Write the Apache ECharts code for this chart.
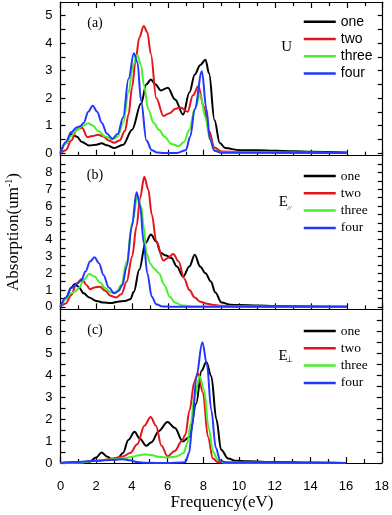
<!DOCTYPE html>
<html><head><meta charset="utf-8">
<script src="https://cdn.jsdelivr.net/npm/echarts@6/dist/echarts.min.js"></script>
<style>html,body{margin:0;padding:0;background:#fff}#c{width:392px;height:515px}</style>
</head><body><div id="c"></div>
<script>
const seriesNames = ['one', 'two', 'three', 'four'];
const colors = ['#000000', '#e3161c', '#48f02a', '#2238ff'];
const xTickLabels = [0, 2, 4, 6, 8, 10, 12, 14, 16, 18];
const yLabelsA = [0, 1, 2, 3, 4, 5];
const yTicksA = [0, 0.5, 1, 1.5, 2, 2.5, 3, 3.5, 4, 4.5, 5];
const yLabelsB = [0, 1, 2, 3, 4, 5, 6, 7, 8];
const yTicksB = [0, 0.5, 1, 1.5, 2, 2.5, 3, 3.5, 4, 4.5, 5, 5.5, 6, 6.5, 7, 7.5, 8, 8.5];
const yLabelsC = [0, 1, 2, 3, 4, 5, 6];
const yTicksC = [0, 0.5, 1, 1.5, 2, 2.5, 3, 3.5, 4, 4.5, 5, 5.5, 6, 6.5];

// Panel (a) U
const aOneX = [0,0.3,0.6,0.9,1.2,1.6,2.0,2.3,2.6,3.0,3.5,4.0,4.5,4.8,5.05,5.3,5.6,6.0,6.4,6.85,7.2,7.5,7.8,8.1,8.3,8.6,8.9,9.2,10,11,12,13,14,16];
const aOneY = [0,0.35,0.68,0.6,0.4,0.27,0.3,0.35,0.28,0.18,0.3,0.85,1.8,2.5,2.68,2.5,2.28,2.38,1.95,1.4,2.2,2.85,3.2,3.4,2.9,1.2,0.36,0.18,0.1,0.1,0.08,0.06,0.04,0.02];
const aTwoX = [0,0.3,0.6,0.9,1.2,1.5,1.8,2.1,2.4,2.7,3.0,3.3,3.6,3.8,4.0,4.2,4.4,4.65,4.85,5.05,5.35,5.75,6.1,6.4,6.7,7.1,7.4,7.7,8.0,8.3,8.6,9,10,12,14,16];
const aTwoY = [0,0.1,0.45,0.85,0.92,0.58,0.62,0.66,0.6,0.45,0.37,0.45,0.8,1.4,2.4,3.4,4.2,4.63,4.4,3.6,2.0,1.35,1.45,1.6,1.66,1.5,2.1,2.43,1.7,0.8,0.2,0.05,0.03,0.02,0.02,0];
const aThreeX = [0,0.3,0.6,0.9,1.2,1.55,1.8,2.1,2.5,2.9,3.2,3.5,3.8,4.05,4.3,4.5,4.65,4.9,5.2,5.5,5.8,6.2,6.6,6.9,7.2,7.5,7.8,8.1,8.35,8.6,9,16];
const aThreeY = [0,0.35,0.62,0.82,0.98,1.08,1.0,0.8,0.6,0.5,0.6,1.1,2.2,3.2,3.57,3.2,2.5,1.6,1.1,0.85,0.6,0.33,0.25,0.4,0.85,1.6,2.12,1.3,0.5,0.1,0.02,0];
const aFourX = [0,0.3,0.6,0.9,1.1,1.3,1.55,1.8,2.05,2.3,2.6,2.9,3.2,3.5,3.8,4.1,4.3,4.5,4.8,5.1,5.4,5.8,6.5,7.0,7.25,7.5,7.9,8.15,8.35,8.6,9,16];
const aFourY = [0,0.4,0.75,0.93,0.97,1.1,1.5,1.72,1.5,1.1,0.7,0.52,0.7,1.3,2.7,3.63,3.3,1.9,0.45,0.1,0.02,0,0,0.1,0.6,1.6,2.98,1.6,0.5,0.08,0.01,0];

// Panel (b) E//
const bOneX = [0,0.3,0.6,0.8,1.0,1.3,1.6,2.0,2.4,2.8,3.2,3.6,3.9,4.1,4.4,4.75,5.05,5.35,5.6,5.9,6.2,6.5,6.85,7.2,7.5,7.8,8.1,8.4,8.65,9.0,9.5,10,11,12,13,14,16];
const bOneY = [0,0.5,1.15,1.35,1.2,0.8,0.55,0.35,0.25,0.22,0.3,0.35,0.45,0.9,2.2,3.8,4.3,3.9,3.2,3.05,2.9,2.4,1.8,2.4,3.1,2.4,2.0,1.5,0.85,0.25,0.12,0.1,0.07,0.05,0.03,0.02,0];
const bTwoX = [0,0.3,0.6,0.9,1.2,1.45,1.65,1.9,2.2,2.5,2.8,3.1,3.4,3.7,4.0,4.25,4.45,4.68,4.9,5.1,5.35,5.75,6.0,6.3,6.6,6.9,7.2,7.5,7.8,8.2,8.6,9,10,12,14,16];
const bTwoY = [0,0.2,0.7,1.4,1.65,1.3,1.05,1.15,1.2,0.95,0.65,0.55,0.75,1.5,3.0,4.8,6.5,7.75,7.0,5.5,3.9,2.75,2.9,3.15,2.7,1.7,1.0,0.55,0.3,0.18,0.1,0.06,0.04,0.02,0.02,0];
const bThreeX = [0,0.3,0.55,0.8,1.05,1.3,1.6,1.9,2.2,2.5,2.8,3.1,3.4,3.7,4.0,4.3,4.5,4.65,4.8,5.0,5.2,5.5,5.8,6.1,6.4,6.8,7.2,8,16];
const bThreeY = [0,0.45,0.8,0.9,1.15,1.6,1.95,1.8,1.45,1.1,0.85,0.85,1.3,2.7,5.0,6.55,6.0,4.8,3.2,2.6,2.3,2.0,1.3,0.6,0.25,0.08,0.03,0.01,0];
const bFourX = [0,0.3,0.6,0.9,1.15,1.4,1.65,1.9,2.15,2.4,2.7,3.0,3.25,3.45,3.7,3.98,4.25,4.45,4.65,4.85,5.1,5.35,5.7,6.2,16];
const bFourY = [0,0.55,1.1,1.35,1.55,2.1,2.7,2.95,2.6,1.9,1.15,0.8,0.95,1.3,2.4,4.75,6.82,6.0,3.8,2.0,0.6,0.15,0.02,0,0];

// Panel (c) E-perp
const cOneX = [0,1,1.6,2.0,2.3,2.6,2.9,3.2,3.5,3.8,4.15,4.45,4.8,5.1,5.5,6.0,6.4,6.85,7.23,7.6,7.9,8.17,8.45,8.73,9.0,9.4,9.8,10.5,12,14,16];
const cOneY = [0,0.02,0.05,0.25,0.48,0.3,0.15,0.2,0.45,1.05,1.42,1.1,0.78,0.95,1.45,1.87,1.6,0.98,1.2,2.7,4.2,4.6,3.95,2.0,0.6,0.2,0.1,0.08,0.04,0.02,0];
const cTwoX = [0,1,2,2.5,3.0,3.5,3.9,4.3,4.7,5.05,5.35,5.65,6.0,6.4,6.8,7.0,7.23,7.5,7.7,7.98,8.26,8.54,8.8,9.2,16];
const cTwoY = [0,0.02,0.1,0.15,0.22,0.3,0.45,0.85,1.7,2.1,1.7,0.8,0.3,0.55,1.0,1.3,2.4,3.7,4.1,3.2,1.2,0.2,0.05,0.02,0];
const cThreeX = [0,1,2,3,3.6,4.0,4.4,4.75,5.1,5.5,6.0,6.5,6.9,7.1,7.3,7.5,7.8,8.05,8.3,8.55,8.8,9.2,16];
const cThreeY = [0,0.02,0.1,0.17,0.22,0.28,0.35,0.4,0.36,0.28,0.25,0.3,0.45,0.9,1.8,3.0,3.95,3.3,1.6,0.5,0.15,0.02,0];
const cFourX = [0,1,2,3,3.5,3.9,4.3,4.8,6,6.8,7.0,7.2,7.4,7.6,7.95,8.2,8.45,8.7,8.95,9.3,16];
const cFourY = [0,0.05,0.1,0.15,0.17,0.12,0.04,0.01,0,0.02,0.05,0.45,1.8,3.9,5.5,4.5,2.4,0.7,0.1,0.02,0];

const panels = [
  {xs:[aOneX,aTwoX,aThreeX,aFourX], ys:[aOneY,aTwoY,aThreeY,aFourY], xAxisIndex:0, yAxisIndex:0},
  {xs:[bOneX,bTwoX,bThreeX,bFourX], ys:[bOneY,bTwoY,bThreeY,bFourY], xAxisIndex:2, yAxisIndex:2},
  {xs:[cOneX,cTwoX,cThreeX,cFourX], ys:[cOneY,cTwoY,cThreeY,cFourY], xAxisIndex:3, yAxisIndex:4}
];

const blk = {color:'#000', width:1.2};
function xAx(grid, pos, showLabel) {
  return {type:'value', gridIndex:grid, position:pos, min:0, max:18, interval:2,
    axisLine:{show:true, onZero:false, lineStyle:blk},
    axisTick:{show:true, inside:true, length:6, lineStyle:blk},
    minorTick:{show:true, splitNumber:2, length:4, lineStyle:blk},
    axisLabel:{show:showLabel, margin:17, color:'#000', fontFamily:'Liberation Sans', fontSize:13,
      formatter: v => xTickLabels.indexOf(v) >= 0 ? String(v) : ''},
    splitLine:{show:false}, minorSplitLine:{show:false}};
}
function yAx(grid, pos, min, max, labels, ticks, showLabel) {
  return {type:'value', gridIndex:grid, position:pos, min:min, max:max,
    axisLine:{show:true, onZero:false, lineStyle:blk},
    axisTick:{show:true, inside:true, length:5, customValues:ticks, lineStyle:blk},
    axisLabel:{show:showLabel, customValues:labels, margin:8, color:'#000', fontFamily:'Liberation Sans', fontSize:13},
    splitLine:{show:false}};
}

const series = [];
panels.forEach(p => {
  seriesNames.forEach((n, i) => {
    series.push({type:'line', name:n, xAxisIndex:p.xAxisIndex, yAxisIndex:p.yAxisIndex,
      data: p.xs[i].map((x, k) => [x, p.ys[i][k]]),
      symbol:'none', smooth:0.35, smoothMonotone:'x',
      lineStyle:{color:colors[i], width:2}, itemStyle:{color:colors[i]}});
  });
});

function legend(top, font) {
  return {left:302.5, top:top, orient:'vertical', itemWidth:32, itemHeight:14, itemGap:3.3, padding:0,
    selectedMode:false,
    data:seriesNames.map(n => ({name:n, itemStyle:{opacity:0}})),
    itemStyle:{opacity:0},
    lineStyle:{width:2.5},
    textStyle:{color:'#000', fontFamily:font, fontSize:font === 'Liberation Sans' ? 14 : 13.5}};
}

const serif = 'Liberation Serif';
const option = {
  animation:false,
  backgroundColor:'#fff',
  grid:[
    {left:60.5, right:9.3, top:2, height:153.7},
    {left:60.5, right:9.3, top:155.7, height:153.6},
    {left:60.5, right:9.3, top:309.3, height:153.7}
  ],
  xAxis:[xAx(0,'bottom',false), xAx(0,'top',false), xAx(1,'bottom',false), xAx(2,'bottom',true)],
  yAxis:[
    yAx(0,'left',-0.1,5.5,yLabelsA,yTicksA,true), yAx(0,'right',-0.1,5.5,yLabelsA,yTicksA,false),
    yAx(1,'left',-0.15,9,yLabelsB,yTicksB,true), yAx(1,'right',-0.15,9,yLabelsB,yTicksB,false),
    yAx(2,'left',0,7,yLabelsC,yTicksC,true), yAx(2,'right',0,7,yLabelsC,yTicksC,false)
  ],
  legend:[legend(14.7,'Liberation Sans'), legend(169,serif), legend(324,serif)],
  series:series,
  graphic:[
    {type:'text', x:95, y:23.5, style:{text:'(a)', fill:'#000', font:'14px "Liberation Serif"', align:'center', verticalAlign:'middle'}},
    {type:'text', x:95, y:175, style:{text:'(b)', fill:'#000', font:'14px "Liberation Serif"', align:'center', verticalAlign:'middle'}},
    {type:'text', x:95, y:330, style:{text:'(c)', fill:'#000', font:'14px "Liberation Serif"', align:'center', verticalAlign:'middle'}},
    {type:'text', x:286.7, y:47, style:{text:'U', fill:'#000', font:'15px "Liberation Serif"', align:'center', verticalAlign:'middle'}},
    {type:'text', x:283.3, y:201.7, style:{text:'E', fill:'#000', font:'15px "Liberation Serif"', align:'center', verticalAlign:'middle'}},
    {type:'text', x:289.2, y:208.3, style:{text:'//', fill:'#000', font:'italic 7px "Liberation Serif"', align:'center', verticalAlign:'middle'}},
    {type:'text', x:283, y:356, style:{text:'E', fill:'#000', font:'15px "Liberation Serif"', align:'center', verticalAlign:'middle'}},
    {type:'text', x:289.5, y:360, style:{text:'\u22A5', fill:'#000', font:'8px "DejaVu Sans"', align:'center', verticalAlign:'middle'}},
    {type:'text', x:222, y:503, style:{text:'Frequency(eV)', fill:'#000', font:'17px "Liberation Serif"', align:'center', verticalAlign:'middle'}},
    {type:'text', x:14, y:232, rotation:Math.PI/2,
      style:{text:'{m|Absorption(um}{s|-1}{m|)}', fill:'#000', align:'center', verticalAlign:'middle',
        rich:{m:{fontFamily:'Liberation Serif', fontSize:17, lineHeight:20}, s:{fontFamily:'Liberation Serif', fontSize:10, verticalAlign:'top'}}}}
  ]
};
const chart = echarts.init(document.getElementById('c'), null, {renderer:'canvas'});
chart.setOption(option);
</script>
</body></html>
